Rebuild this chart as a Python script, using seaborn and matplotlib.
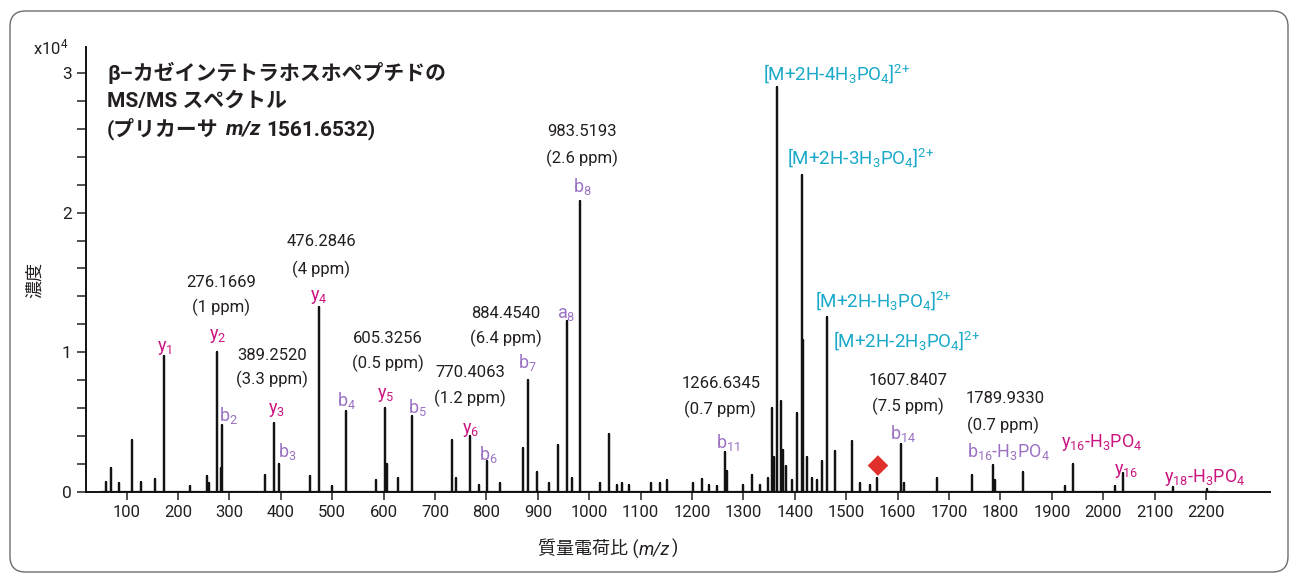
import matplotlib
matplotlib.use("Agg")
import matplotlib.pyplot as plt
from matplotlib.patches import FancyBboxPatch
from matplotlib.ticker import MultipleLocator
import pandas as pd
import seaborn as sns

# ---------------- data ----------------
peak_mz = [59.7, 69.4, 85, 110.3, 127.8, 155, 172.6, 223, 256, 260, 275.8, 283.5, 285.5,
           369, 386.7, 396.4, 456.8, 474.3, 499.6, 526.8, 585, 602.7, 606.6, 628, 655.3,
           733.1, 741, 768.2, 785.7, 801.3, 826.6, 871.3, 881, 898.6, 922, 939.4, 957,
           966.7, 982.3, 1021.3, 1038.7, 1054.3, 1064, 1077.6, 1120.4, 1138, 1151.6,
           1202.2, 1219.7, 1233.3, 1249, 1264.5, 1268, 1299.5, 1317, 1332.6, 1348.2,
           1356, 1360, 1365.7, 1373.5, 1377.4, 1383, 1394.9, 1404.6, 1414.3, 1416.3,
           1424, 1434, 1444, 1453.3, 1463, 1478.6, 1511.7, 1527.3, 1546.8, 1560.3,
           1607, 1612, 1677, 1745.2, 1786, 1790, 1844.5, 1926.3, 1941.8, 2023.5, 2039,
           2136.4, 2202.6]
peak_int = [0.07, 0.17, 0.06, 0.37, 0.07, 0.09, 0.97, 0.04, 0.11, 0.06, 1.00, 0.17, 0.48,
            0.12, 0.49, 0.20, 0.11, 1.32, 0.04, 0.58, 0.08, 0.60, 0.20, 0.10, 0.54,
            0.37, 0.10, 0.40, 0.05, 0.22, 0.06, 0.31, 0.80, 0.14, 0.06, 0.33, 1.22,
            0.10, 2.08, 0.06, 0.41, 0.05, 0.06, 0.05, 0.06, 0.06, 0.08,
            0.06, 0.09, 0.05, 0.04, 0.28, 0.15, 0.05, 0.12, 0.05, 0.10,
            0.60, 0.25, 2.90, 0.65, 0.30, 0.18, 0.08, 0.56, 2.27, 1.09,
            0.25, 0.10, 0.08, 0.22, 1.25, 0.29, 0.36, 0.06, 0.05, 0.10,
            0.34, 0.06, 0.10, 0.12, 0.19, 0.08, 0.14, 0.04, 0.20, 0.04, 0.13,
            0.03, 0.02]  # x10^4 counts
spectrum_start = 50
spectrum_end = 2222
precursor_mz = 1561.6532
precursor_marker_y = 0.186

x_ticks = list(range(100, 2201, 100))
y_ticks = [0, 1, 2, 3]

mass_labels = ["276.1669", "389.2520", "476.2846", "605.3256", "770.4063", "884.4540",
               "983.5193", "1266.6345", "1607.8407", "1789.9330"]
ppm_labels = ["(1 ppm)", "(3.3 ppm)", "(4 ppm)", "(0.5 ppm)", "(1.2 ppm)", "(6.4 ppm)",
              "(2.6 ppm)", "(0.7 ppm)", "(7.5 ppm)", "(0.7 ppm)"]
y_ion_labels = [r"y$_\mathrm{1}$", r"y$_\mathrm{2}$", r"y$_\mathrm{3}$", r"y$_\mathrm{4}$",
                r"y$_\mathrm{5}$", r"y$_\mathrm{6}$",
                r"y$_\mathrm{16}$-H$_\mathrm{3}$PO$_\mathrm{4}$", r"y$_\mathrm{16}$",
                r"y$_\mathrm{18}$-H$_\mathrm{3}$PO$_\mathrm{4}$"]
b_ion_labels = [r"b$_\mathrm{2}$", r"b$_\mathrm{3}$", r"b$_\mathrm{4}$", r"b$_\mathrm{5}$",
                r"b$_\mathrm{6}$", r"b$_\mathrm{7}$", r"a$_\mathrm{8}$", r"b$_\mathrm{8}$",
                r"b$_\mathrm{11}$", r"b$_\mathrm{14}$",
                r"b$_\mathrm{16}$-H$_\mathrm{3}$PO$_\mathrm{4}$"]
precursor_labels = [r"[M+2H-4H$_\mathrm{3}$PO$_\mathrm{4}$]$^\mathrm{2{+}}$",
                    r"[M+2H-3H$_\mathrm{3}$PO$_\mathrm{4}$]$^\mathrm{2{+}}$",
                    r"[M+2H-H$_\mathrm{3}$PO$_\mathrm{4}$]$^\mathrm{2{+}}$",
                    r"[M+2H-2H$_\mathrm{3}$PO$_\mathrm{4}$]$^\mathrm{2{+}}$"]
title_lines = ["β–カゼインテトラホスホペプチドの", "MS/MS スペクトル"]
title_line3 = ["(プリカーサ", "m/z", "1561.6532)"]
x_label_parts = ["質量電荷比 (", "m/z", ")"]
y_label = "濃度"
y_scale_label = r"x10$^\mathrm{4}$"

# ---------------- layout (positions in data coords) ----------------
mass_pos = [(283.5, 1.50), (382.8, 0.974), (478.2, 1.79), (608.6, 1.095), (768.2, 0.852),
            (838.2, 1.274), (986.1, 2.584), (1256.6, 0.773), (1620.6, 0.795), (1809.3, 0.666)]
ppm_pos = [(283.5, 1.317), (382.8, 0.802), (478.2, 1.596), (608.6, 0.916), (768.2, 0.666),
           (838.2, 1.095), (986.1, 2.391), (1254.7, 0.587), (1620.6, 0.608), (1805.5, 0.472)]
y_ion_pos = [(174.5, 1.03), (277.7, 1.115), (390.6, 0.585), (474.3, 1.395), (604.7, 0.693),
             (768.2, 0.442), (1998.2, 0.35), (2044.9, 0.15), (2196.7, 0.10)]
b_ion_pos = [(297.2, 0.542), (412.0, 0.285), (526.8, 0.65), (665.0, 0.60), (803.2, 0.263),
             (879.1, 0.922), (955.0, 1.272), (986.1, 2.19), (1270.3, 0.35), (1610.9, 0.413),
             (1815.2, 0.285)]
precursor_pos = [(1338.4, 3.0), (1385.1, 2.391), (1439.6, 1.367), (1474.7, 1.081)]

W, H = 1296, 577
C_TEXT = "#231f20"
C_Y = "#cc1480"
C_B = "#9b72c2"
C_P = "#19a9c9"

sns.set_theme(style="ticks")
plt.rcParams["font.family"] = ["Roboto", "Noto Sans CJK JP", "DejaVu Sans"]
plt.rcParams["mathtext.fontset"] = "custom"
plt.rcParams["mathtext.rm"] = "Roboto"
plt.rcParams["mathtext.it"] = "Roboto:italic"
plt.rcParams["mathtext.bf"] = "Roboto:bold"

fig = plt.figure(figsize=(W / 100, H / 100), dpi=100)
ax = fig.add_axes([86 / W, 1 - 491.5 / H, (1270 - 86) / W, (491.5 - 46.7) / H])

# stick spectrum table built from the peak lists
xs, ys = [spectrum_start], [0.0]
for m, v in zip(peak_mz, peak_int):
    xs += [m, m, m]
    ys += [0.0, v, 0.0]
xs.append(spectrum_end)
ys.append(0.0)
spec = pd.DataFrame({"mz": xs, "intensity": ys})
sns.lineplot(data=spec, x="mz", y="intensity", sort=False, estimator=None,
             color="#131313", lw=1.6, ax=ax)
sns.scatterplot(x=[precursor_mz], y=[precursor_marker_y], marker="D", s=110,
                color="#e0302b", edgecolor="none", ax=ax, zorder=5)

ax.set_xlim(20.8, 2324.5)
ax.set_ylim(0, 3.19)
ax.set_xticks(x_ticks)
ax.set_yticks(y_ticks)
ax.yaxis.set_minor_locator(MultipleLocator(0.2))
ax.tick_params(axis="x", direction="out", length=5.5, width=1.1, pad=4.5,
               labelsize=12, colors=C_TEXT)
ax.tick_params(axis="y", which="both", direction="out", length=6.3, width=1.1, pad=4,
               labelsize=12.5, colors=C_TEXT)
for s in ["top", "right"]:
    ax.spines[s].set_visible(False)
for s in ["left", "bottom"]:
    ax.spines[s].set_linewidth(1.4)
    ax.spines[s].set_color("#111111")
ax.set_xlabel("")
ax.set_ylabel("")

# annotations
for t, (x, y) in zip(mass_labels, mass_pos):
    ax.text(x, y, t, ha="center", va="center", fontsize=12, color=C_TEXT)
for t, (x, y) in zip(ppm_labels, ppm_pos):
    ax.text(x, y, t, ha="center", va="center", fontsize=12, color=C_TEXT)
for t, (x, y) in zip(y_ion_labels, y_ion_pos):
    ax.text(x, y, t, ha="center", va="center", fontsize=13, color=C_Y)
for t, (x, y) in zip(b_ion_labels, b_ion_pos):
    ax.text(x, y, t, ha="center", va="center", fontsize=13, color=C_B)
for t, (x, y) in zip(precursor_labels, precursor_pos):
    ax.text(x, y, t, ha="left", va="center", fontsize=13.5, color=C_P)

renderer = fig.canvas.get_renderer()


def run_of_text(x_px, base_px, parts, styles, gaps, **common):
    """Place text pieces side by side on one baseline (pixel coords from top-left)."""
    x = x_px
    arts = []
    for part, st, gap in zip(parts, styles, gaps):
        t = fig.text((x + gap) / W, 1 - base_px / H, part, ha="left", va="baseline",
                     **common, **st)
        x = t.get_window_extent(renderer).x1
        arts.append(t)
    return arts


# title block
for i, line in enumerate(title_lines):
    fig.text(107 / W, 1 - (73 + 28 * i) / H, line, ha="left", va="center",
             fontsize=15, fontweight="bold", color=C_TEXT)
run_of_text(107, 135, title_line3,
            [dict(), dict(fontstyle="italic"), dict()], [0, 7, 5],
            fontsize=15, fontweight="bold", color=C_TEXT)

# x label centred at 608 px
xl = run_of_text(0, 554, x_label_parts, [dict(), dict(fontstyle="italic"), dict()],
                 [0, 0, 1], fontsize=13, color=C_TEXT)
total = xl[-1].get_window_extent(renderer).x1 - xl[0].get_window_extent(renderer).x0
shift = 608 - total / 2 - xl[0].get_window_extent(renderer).x0
for t in xl:
    px, py = t.get_position()
    t.set_position((px + shift / W, py))

fig.text(35 / W, 1 - 280 / H, y_label, ha="center", va="center", rotation=90,
         fontsize=13, color=C_TEXT)
fig.text(33 / W, 1 - 47 / H, y_scale_label, ha="left", va="center", fontsize=12, color=C_TEXT)

# rounded frame around the figure
frame = FancyBboxPatch((10 / W, 1 - 572 / H), (1288 - 10) / W, (572 - 11) / H,
                       boxstyle="round,pad=0,rounding_size=0.012",
                       transform=fig.transFigure, fill=False, edgecolor="#6d6d6d",
                       lw=1.0, mutation_aspect=W / H)
fig.patches.append(frame)

fig.savefig("out.png", dpi=100)
